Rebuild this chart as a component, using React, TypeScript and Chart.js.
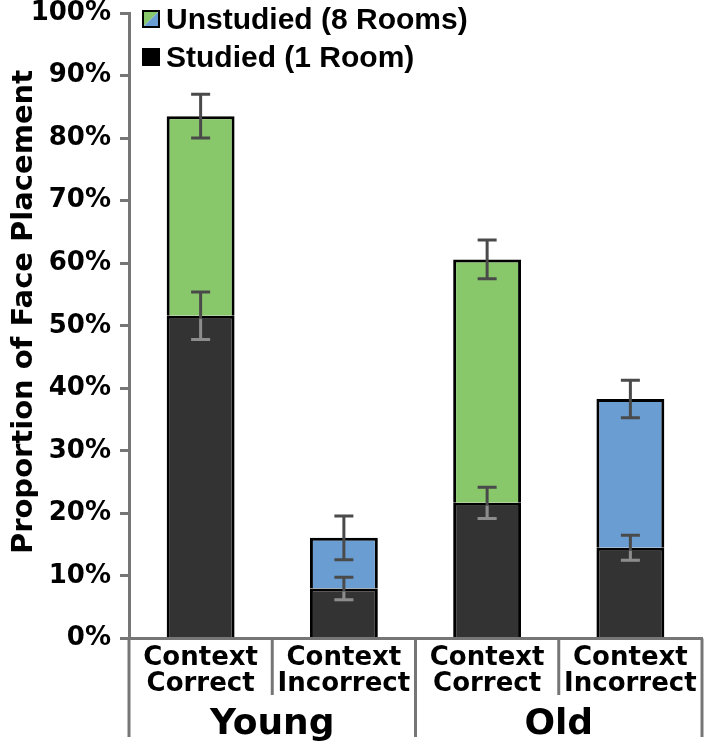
import React, { useEffect, useRef } from 'react';
import { Chart, registerables } from 'chart.js';

Chart.register(...registerables);

const categories = [
  ['Context', 'Correct'],
  ['Context', 'Incorrect'],
  ['Context', 'Correct'],
  ['Context', 'Incorrect'],
];
const groups = ['Young', 'Old'];
const studied = [51.6, 8.0, 21.7, 14.5];
const unstudied = [31.9, 8.1, 38.9, 23.8];
const studiedErr = [3.8, 1.8, 2.5, 2.0];
const totalErr = [3.5, 3.5, 3.1, 3.0];
const legendLabels = ['Unstudied (8 Rooms)', 'Studied (1 Room)'];
const yTitle = 'Proportion of Face Placement';
const yMin = 0;
const yMax = 100;
const yStep = 10;

const DARK = '#333333';
const GREEN = '#88C86B';
const BLUE = '#6A9ED3';
const AXIS = '#767676';
const ERR_DARK = '#4a4a4a';
const ERR_LIGHT = '#8c8c8c';
const FONT = '"DejaVu Sans", sans-serif';
const LEGEND_FONT = '"Liberation Sans", Arial, sans-serif';

const customPlugin = {
  id: 'customDecor',
  afterDatasetsDraw(chart: any) {
    const ctx = chart.ctx;
    const ys = chart.scales.y;
    const m0 = chart.getDatasetMeta(0);
    const m1 = chart.getDatasetMeta(1);
    const items: { x: number; v: number; e: number }[] = [];
    for (let i = 0; i < studied.length; i++) {
      items.push({ x: m0.data[i].x, v: studied[i], e: studiedErr[i] });
      items.push({ x: m1.data[i].x, v: studied[i] + unstudied[i], e: totalErr[i] });
    }
    const drawAll = (color: string) => {
      ctx.strokeStyle = color;
      ctx.lineWidth = 3;
      for (const it of items) {
        const yt = ys.getPixelForValue(it.v + it.e);
        const yb = ys.getPixelForValue(it.v - it.e);
        ctx.beginPath();
        ctx.moveTo(it.x, yt);
        ctx.lineTo(it.x, yb);
        ctx.moveTo(it.x - 9.5, yt);
        ctx.lineTo(it.x + 9.5, yt);
        ctx.moveTo(it.x - 9.5, yb);
        ctx.lineTo(it.x + 9.5, yb);
        ctx.stroke();
      }
    };
    ctx.save();
    drawAll(ERR_DARK);
    ctx.restore();
    ctx.save();
    ctx.beginPath();
    for (const el of m0.data) {
      const p = el.getProps(['x', 'y', 'base', 'width'], true);
      ctx.rect(p.x - p.width / 2 + 3, p.y + 3, p.width - 6, p.base - p.y - 3);
    }
    ctx.clip();
    drawAll(ERR_LIGHT);
    ctx.restore();
  },
  afterDraw(chart: any) {
    const ctx = chart.ctx;
    const xs = chart.scales.x;
    const area = chart.chartArea;
    const c0 = xs.getPixelForValue(0);
    const c1 = xs.getPixelForValue(1);
    const step = c1 - c0;
    const bounds: number[] = [];
    for (let k = 0; k <= categories.length; k++) bounds.push(c0 - step / 2 + k * step);

    ctx.save();
    ctx.strokeStyle = AXIS;
    ctx.lineWidth = 3;
    bounds.forEach((bx, k) => {
      ctx.beginPath();
      ctx.moveTo(bx, area.bottom);
      ctx.lineTo(bx, k % 2 === 0 ? 737 : 695);
      ctx.stroke();
    });

    ctx.fillStyle = '#000';
    ctx.font = `bold 36px ${FONT}`;
    ctx.textAlign = 'center';
    ctx.textBaseline = 'alphabetic';
    groups.forEach((g, gi) => {
      const cx = (bounds[gi * 2] + bounds[gi * 2 + 2]) / 2;
      ctx.fillText(g, cx, 734);
    });

    // y title
    ctx.save();
    ctx.translate(24, 312);
    ctx.rotate(-Math.PI / 2);
    ctx.font = `bold 29px ${FONT}`;
    ctx.textAlign = 'center';
    ctx.textBaseline = 'middle';
    ctx.fillText(yTitle, 0, 0);
    ctx.restore();

    // legend
    const bx = 142;
    const rows = [10, 48];
    ctx.beginPath();
    ctx.moveTo(bx, rows[0]);
    ctx.lineTo(bx + 18, rows[0]);
    ctx.lineTo(bx, rows[0] + 18);
    ctx.closePath();
    ctx.fillStyle = GREEN;
    ctx.fill();
    ctx.beginPath();
    ctx.moveTo(bx + 18, rows[0]);
    ctx.lineTo(bx + 18, rows[0] + 18);
    ctx.lineTo(bx, rows[0] + 18);
    ctx.closePath();
    ctx.fillStyle = BLUE;
    ctx.fill();
    ctx.strokeStyle = '#000';
    ctx.lineWidth = 2;
    ctx.strokeRect(bx + 1, rows[0] + 1, 16, 16);
    ctx.fillStyle = '#000';
    ctx.fillRect(bx, rows[1], 18, 18);

    ctx.font = `bold 30px ${LEGEND_FONT}`;
    ctx.textAlign = 'left';
    ctx.textBaseline = 'alphabetic';
    ctx.fillText(legendLabels[0], 166, 29);
    ctx.fillText(legendLabels[1], 166, 67);
    ctx.restore();
  },
};

export default function App() {
  const ref = useRef<HTMLCanvasElement | null>(null);
  useEffect(() => {
    if (!ref.current) return;
    const chart = new Chart(ref.current, {
      type: 'bar',
      data: {
        labels: categories as any,
        datasets: [
          {
            label: legendLabels[1],
            data: studied,
            backgroundColor: DARK,
            borderColor: '#000',
            borderWidth: 3,
            barPercentage: 0.474,
            categoryPercentage: 1,
          },
          {
            label: legendLabels[0],
            data: unstudied,
            backgroundColor: [GREEN, BLUE, GREEN, BLUE],
            borderColor: '#000',
            borderWidth: 3,
            barPercentage: 0.474,
            categoryPercentage: 1,
          },
        ],
      },
      options: {
        responsive: false,
        animation: false,
        devicePixelRatio: 1,
        layout: { padding: { top: 13, right: 5, left: 0, bottom: 0 } },
        plugins: {
          legend: { display: false },
          tooltip: { enabled: false },
        },
        scales: {
          x: {
            stacked: true,
            grid: { display: false, drawTicks: false },
            border: { display: true, color: AXIS, width: 3 },
            ticks: {
              color: '#000',
              padding: 7,
              maxRotation: 0,
              autoSkip: false,
              font: { family: FONT, size: 26, weight: 'bold', lineHeight: 1.0 },
            },
            afterFit: (s: any) => {
              s.height = 108.5;
              s.paddingLeft = 0;
              s.paddingRight = 0;
            },
          },
          y: {
            stacked: true,
            min: yMin,
            max: yMax,
            grid: {
              display: true,
              drawOnChartArea: false,
              drawTicks: true,
              tickLength: 9,
              color: AXIS,
              lineWidth: 3,
            },
            border: { display: true, color: AXIS, width: 3 },
            ticks: {
              stepSize: yStep,
              color: '#000',
              padding: 9,
              font: { family: FONT, size: 26, weight: 'bold', lineHeight: 1.0 },
              callback: (v: any) => `${v}%`,
            },
            afterFit: (s: any) => {
              s.width = 129;
              s.paddingTop = 0;
              s.paddingBottom = 0;
            },
          },
        },
      },
      plugins: [customPlugin],
    });
    return () => chart.destroy();
  }, []);
  return (
    <div style={{ position: 'absolute', left: 0, top: 0, width: 707, height: 747 }}>
      <canvas ref={ref} width={707} height={747} style={{ display: 'block' }} />
    </div>
  );
}
